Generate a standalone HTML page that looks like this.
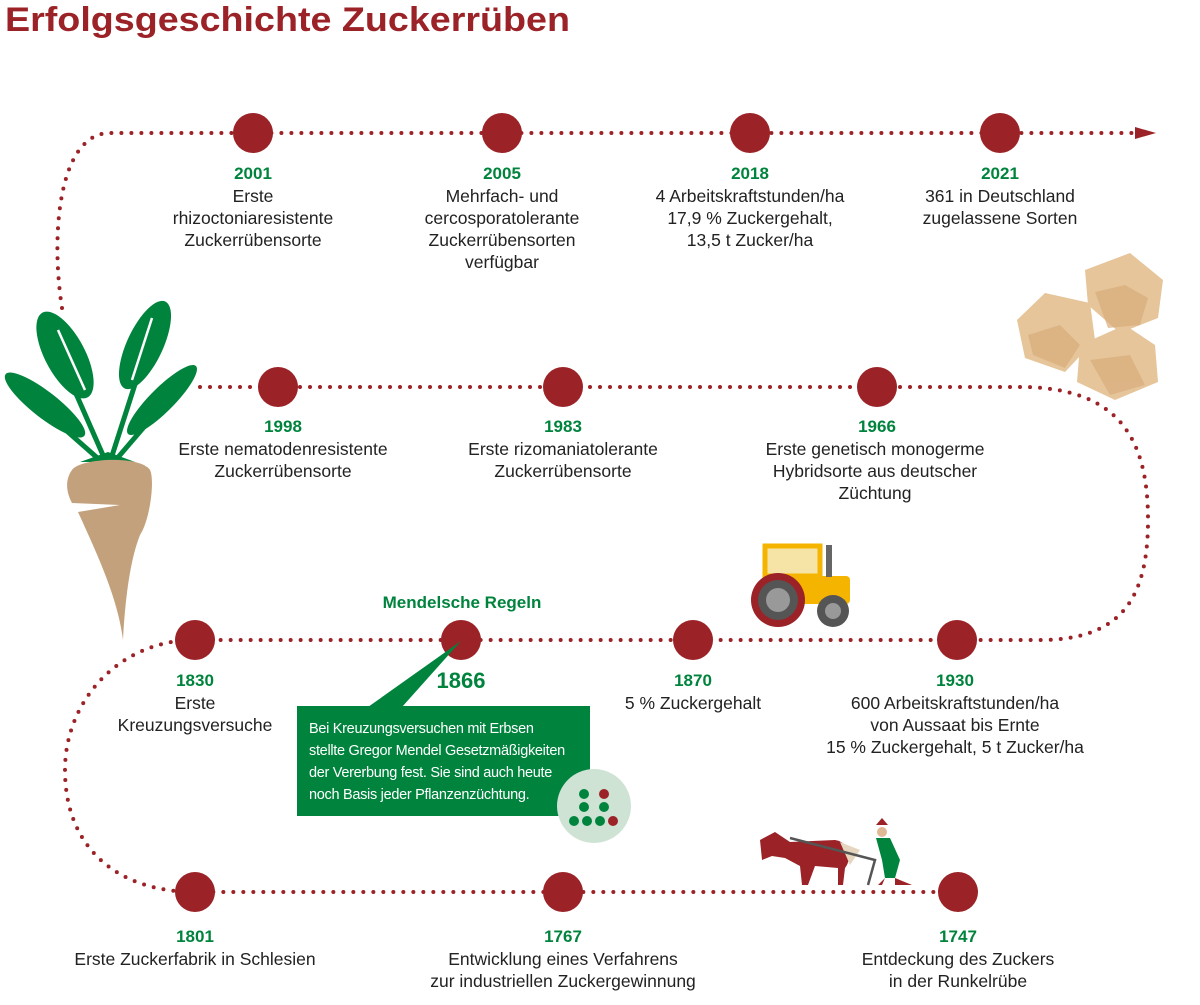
<!DOCTYPE html>
<html><head><meta charset="utf-8"><style>
body{margin:0;width:1200px;height:1000px;background:#fff;overflow:hidden;font-family:"Liberation Sans",sans-serif;}
svg text{font-family:"Liberation Sans",sans-serif;}
</style></head><body>
<svg width="1200" height="1000" viewBox="0 0 1200 1000" xmlns="http://www.w3.org/2000/svg">
<text x="5" y="31" font-size="34" font-weight="bold" fill="#9b2226" textLength="565" lengthAdjust="spacingAndGlyphs">Erfolgsgeschichte Zuckerrüben</text>
<g fill="none" stroke="#9b2226" stroke-width="4" stroke-linecap="round" stroke-dasharray="0 10">
<path d="M62,308 C50,230 60,133 110,133 L1140,133"/>
<path d="M200,387 L1020,387 C1120,387 1148,440 1148,520 C1148,600 1120,640 1040,640 L195,640 C120,640 65,700 65,770 C65,850 120,892 195,892 L958,892"/>
</g>
<path d="M1135,127 L1156,133 L1135,139 Z" fill="#9b2226"/>
<g fill="#9b2226">
<circle cx="253" cy="133" r="20"/><circle cx="502" cy="133" r="20"/><circle cx="750" cy="133" r="20"/><circle cx="1000" cy="133" r="20"/>
<circle cx="278" cy="387" r="20"/><circle cx="563" cy="387" r="20"/><circle cx="877" cy="387" r="20"/>
<circle cx="195" cy="640" r="20"/><circle cx="461" cy="640" r="20"/><circle cx="693" cy="640" r="20"/><circle cx="957" cy="640" r="20"/>
<circle cx="195" cy="892" r="20"/><circle cx="563" cy="892" r="20"/><circle cx="958" cy="892" r="20"/>
</g>
<g text-anchor="middle" font-size="17.5" fill="#222">
<g font-weight="bold" fill="#00843d" font-size="17">
<text x="253" y="179">2001</text><text x="502" y="179">2005</text><text x="750" y="179">2018</text><text x="1000" y="179">2021</text>
<text x="283" y="432">1998</text><text x="563" y="432">1983</text><text x="877" y="432">1966</text>
<text x="195" y="686">1830</text><text x="693" y="686">1870</text><text x="955" y="686">1930</text>
<text x="195" y="942">1801</text><text x="563" y="942">1767</text><text x="958" y="942">1747</text>
<text x="462" y="608">Mendelsche Regeln</text>
<text x="461" y="688" font-size="22">1866</text>
</g>
<text x="253" y="202">Erste</text><text x="253" y="224">rhizoctoniaresistente</text><text x="253" y="246">Zuckerrübensorte</text>
<text x="502" y="202">Mehrfach- und</text><text x="502" y="224">cercosporatolerante</text><text x="502" y="246">Zuckerrübensorten</text><text x="502" y="268">verfügbar</text>
<text x="750" y="202">4 Arbeitskraftstunden/ha</text><text x="750" y="224">17,9 % Zuckergehalt,</text><text x="750" y="246">13,5 t Zucker/ha</text>
<text x="1000" y="202">361 in Deutschland</text><text x="1000" y="224">zugelassene Sorten</text>
<text x="283" y="455">Erste nematodenresistente</text><text x="283" y="477">Zuckerrübensorte</text>
<text x="563" y="455">Erste rizomaniatolerante</text><text x="563" y="477">Zuckerrübensorte</text>
<text x="875" y="455">Erste genetisch monogerme</text><text x="875" y="477">Hybridsorte aus deutscher</text><text x="875" y="499">Züchtung</text>
<text x="195" y="709">Erste</text><text x="195" y="731">Kreuzungsversuche</text>
<text x="693" y="709">5 % Zuckergehalt</text>
<text x="955" y="709">600 Arbeitskraftstunden/ha</text><text x="955" y="731">von Aussaat bis Ernte</text><text x="955" y="753">15 % Zuckergehalt, 5 t Zucker/ha</text>
<text x="195" y="965">Erste Zuckerfabrik in Schlesien</text>
<text x="563" y="965">Entwicklung eines Verfahrens</text><text x="563" y="987">zur industriellen Zuckergewinnung</text>
<text x="958" y="965">Entdeckung des Zuckers</text><text x="958" y="987">in der Runkelrübe</text>
</g>
<!-- Mendel box -->
<path d="M368,707 L461,641 L402,707 Z" fill="#00843d"/>
<rect x="297" y="706" width="293" height="110" fill="#00843d"/>
<g font-size="14.5" fill="#fff" letter-spacing="-0.3">
<text x="309" y="733">Bei Kreuzungsversuchen mit Erbsen</text>
<text x="309" y="755">stellte Gregor Mendel Gesetzmäßigkeiten</text>
<text x="309" y="777">der Vererbung fest. Sie sind auch heute</text>
<text x="309" y="799">noch Basis jeder Pflanzenzüchtung.</text>
</g>
<circle cx="594" cy="806" r="37" fill="#cfe3d5"/>
<g fill="#00843d"><circle cx="584" cy="794" r="5"/><circle cx="584" cy="807" r="5"/><circle cx="604" cy="807" r="5"/><circle cx="574" cy="821" r="5"/><circle cx="587" cy="821" r="5"/><circle cx="600" cy="821" r="5"/></g>
<g fill="#9b2226"><circle cx="604" cy="794" r="5"/><circle cx="613" cy="821" r="5"/></g>
<!-- beet leaves -->
<g fill="#00843d">
<ellipse cx="65" cy="355" rx="20" ry="48" transform="rotate(-28 65 355)"/>
<ellipse cx="145" cy="345" rx="18" ry="48" transform="rotate(25 145 345)"/>
<ellipse cx="45" cy="405" rx="13" ry="50" transform="rotate(-52 45 405)"/>
<ellipse cx="162" cy="400" rx="12" ry="48" transform="rotate(45 162 400)"/>
<path d="M80,462 L135,462 L108,452 Z"/>
</g>
<g stroke="#00843d" stroke-width="5" fill="none">
<path d="M70,380 L106,462"/><path d="M138,375 L110,462"/><path d="M60,425 L102,462"/><path d="M150,420 L114,462"/>
</g>
<g stroke="#fff" stroke-width="2.5" fill="none">
<path d="M58,330 L85,390"/><path d="M152,318 L132,380"/>
</g>
<path d="M72,470 C80,458 140,455 150,470 C155,480 150,520 140,535 C130,560 125,600 123,640 C118,600 100,560 78,512 L120,505 L72,503 C65,490 66,478 72,470 Z" fill="#c3a17c"/>
<!-- sugar cubes -->
<g fill="#e6c59a">
<path d="M1085,270 L1130,253 L1163,280 L1158,318 L1120,333 L1088,305 Z"/>
<path d="M1017,320 L1045,293 L1090,303 L1095,340 L1065,372 L1025,358 Z"/>
<path d="M1080,345 L1125,325 L1155,345 L1158,382 L1115,400 L1077,382 Z"/>
</g>
<g fill="#d9ad7c" opacity="0.7">
<path d="M1095,292 L1125,285 L1148,298 L1140,325 L1108,328 Z"/>
<path d="M1028,335 L1060,325 L1080,345 L1065,368 L1033,355 Z"/>
<path d="M1090,360 L1130,355 L1145,385 L1110,395 Z"/>
</g>
<!-- tractor -->
<g>
<rect x="765" y="546" width="55" height="30" fill="#f6e3a6" stroke="#f5b400" stroke-width="5"/>
<rect x="762" y="576" width="88" height="28" rx="4" fill="#f5b400"/>
<rect x="826" y="545" width="6" height="32" fill="#666"/>
<circle cx="778" cy="600" r="27" fill="#9b2226"/>
<circle cx="778" cy="600" r="20" fill="#555"/><circle cx="778" cy="600" r="12" fill="#999"/>
<circle cx="833" cy="611" r="16" fill="#555"/><circle cx="833" cy="611" r="8" fill="#999"/>
</g>
<!-- horse & farmer -->
<g>
<path d="M760,840 L775,832 L790,842 L835,840 C850,842 852,860 845,868 L843,885 L838,885 L838,868 L815,866 L808,885 L802,885 L800,866 L785,858 L772,856 L762,860 Z" fill="#9b2226"/>
<path d="M840,842 L860,850 L850,865 Z" fill="#e6d6bf"/>
<path d="M790,838 L875,860 L868,885" stroke="#555" stroke-width="2.5" fill="none"/>
<circle cx="882" cy="832" r="5" fill="#e0b896"/>
<path d="M876,825 L888,825 L882,818 Z" fill="#9b2226"/>
<path d="M876,838 L890,838 L900,860 L895,878 L885,878 L882,860 Z" fill="#00843d"/>
<path d="M885,878 L882,885 L878,885 Z M895,878 L912,885 L895,885 Z" fill="#9b2226"/>
</g>
</svg>
</body></html>
